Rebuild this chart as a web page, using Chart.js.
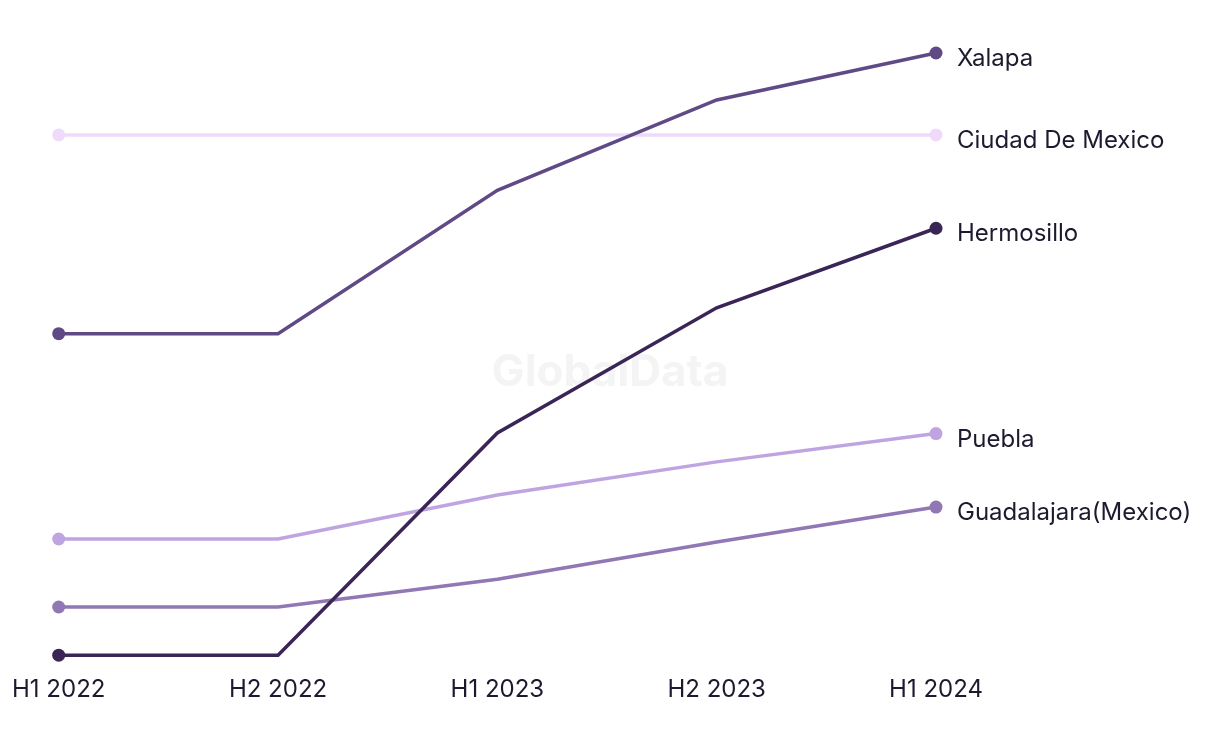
<!DOCTYPE html>
<html>
<head>
<meta charset="utf-8">
<script src="https://cdn.jsdelivr.net/npm/chart.js@4.4.1/dist/chart.umd.min.js"></script>
<style>
  html, body { margin: 0; padding: 0; background: #fff; }
  #wrap { width: 1220px; height: 744px; position: relative; }
</style>
</head>
<body>
<div id="wrap"><canvas id="grafico"></canvas></div>
<script>
// periodos e valores
const periodos = ['H1 2022', 'H2 2022', 'H1 2023', 'H2 2023', 'H1 2024'];
const nomes = ['Xalapa', 'Ciudad De Mexico', 'Hermosillo', 'Puebla', 'Guadalajara(Mexico)'];
const cores = ['#5f4a86', '#f0dafc', '#3a2557', '#c0a4e2', '#9177b3'];
const xalapa = [53.4, 53.4, 77.2, 92.2, 100];
const ciudadDeMexico = [86.4, 86.4, 86.4, 86.4, 86.4];
const hermosillo = [0, 0, 36.9, 57.7, 70.9];
const puebla = [19.3, 19.3, 26.6, 32.1, 36.8];
const guadalajara = [8, 8, 12.6, 18.8, 24.6];
const series = [xalapa, ciudadDeMexico, hermosillo, puebla, guadalajara];

const fonte = 'Inter, "Noto Sans", sans-serif';

const marcaDagua = {
    id: 'marcaDagua',
    beforeDatasetsDraw(chart) {
        const ctx = chart.ctx;
        ctx.save();
        ctx.font = 'bold 44px ' + fonte;
        ctx.fillStyle = '#f4f4f4';
        ctx.textAlign = 'center';
        ctx.textBaseline = 'middle';
        ctx.fillText('GlobalData', 610, 373);
        ctx.restore();
    }
};

const rotulosFinais = {
    id: 'rotulosFinais',
    afterDatasetsDraw(chart) {
        const ctx = chart.ctx;
        ctx.save();
        ctx.font = '24px ' + fonte;
        ctx.fillStyle = '#1c1a2e';
        ctx.textBaseline = 'middle';
        chart.data.datasets.forEach((ds, i) => {
            const pts = chart.getDatasetMeta(i).data;
            const p = pts[pts.length - 1];
            ctx.fillText(ds.label, p.x + 21, p.y + 6);
        });
        ctx.restore();
    }
};

// so o primeiro e o ultimo ponto levam marcador
const raios = periodos.map((_, i) => (i === 0 || i === periodos.length - 1) ? 6.5 : 0);

const dados = {
    labels: periodos,
    datasets: series.map((s, i) => ({
        label: nomes[i],
        data: s,
        borderColor: cores[i],
        backgroundColor: cores[i],
        pointBackgroundColor: cores[i],
        pointBorderWidth: 0,
        pointRadius: raios,
        borderWidth: 3.5,
        tension: 0,
        fill: false,
        clip: false
    }))
};

new Chart(document.getElementById('grafico'), {
    type: 'line',
    data: dados,
    options: {
        responsive: true,
        maintainAspectRatio: false,
        animation: false,
        layout: { padding: { left: 56, right: 284, top: 53, bottom: 28 } },
        plugins: {
            legend: { display: false },
            tooltip: { enabled: false }
        },
        scales: {
            x: {
                offset: false,
                grid: { display: false },
                border: { display: false },
                ticks: {
                    color: '#1c1a2e',
                    font: { family: fonte, size: 24 },
                    padding: 12,
                    maxRotation: 0
                }
            },
            y: {
                display: false,
                min: 0,
                max: 100
            }
        }
    },
    plugins: [marcaDagua, rotulosFinais]
});
</script>
</body>
</html>
